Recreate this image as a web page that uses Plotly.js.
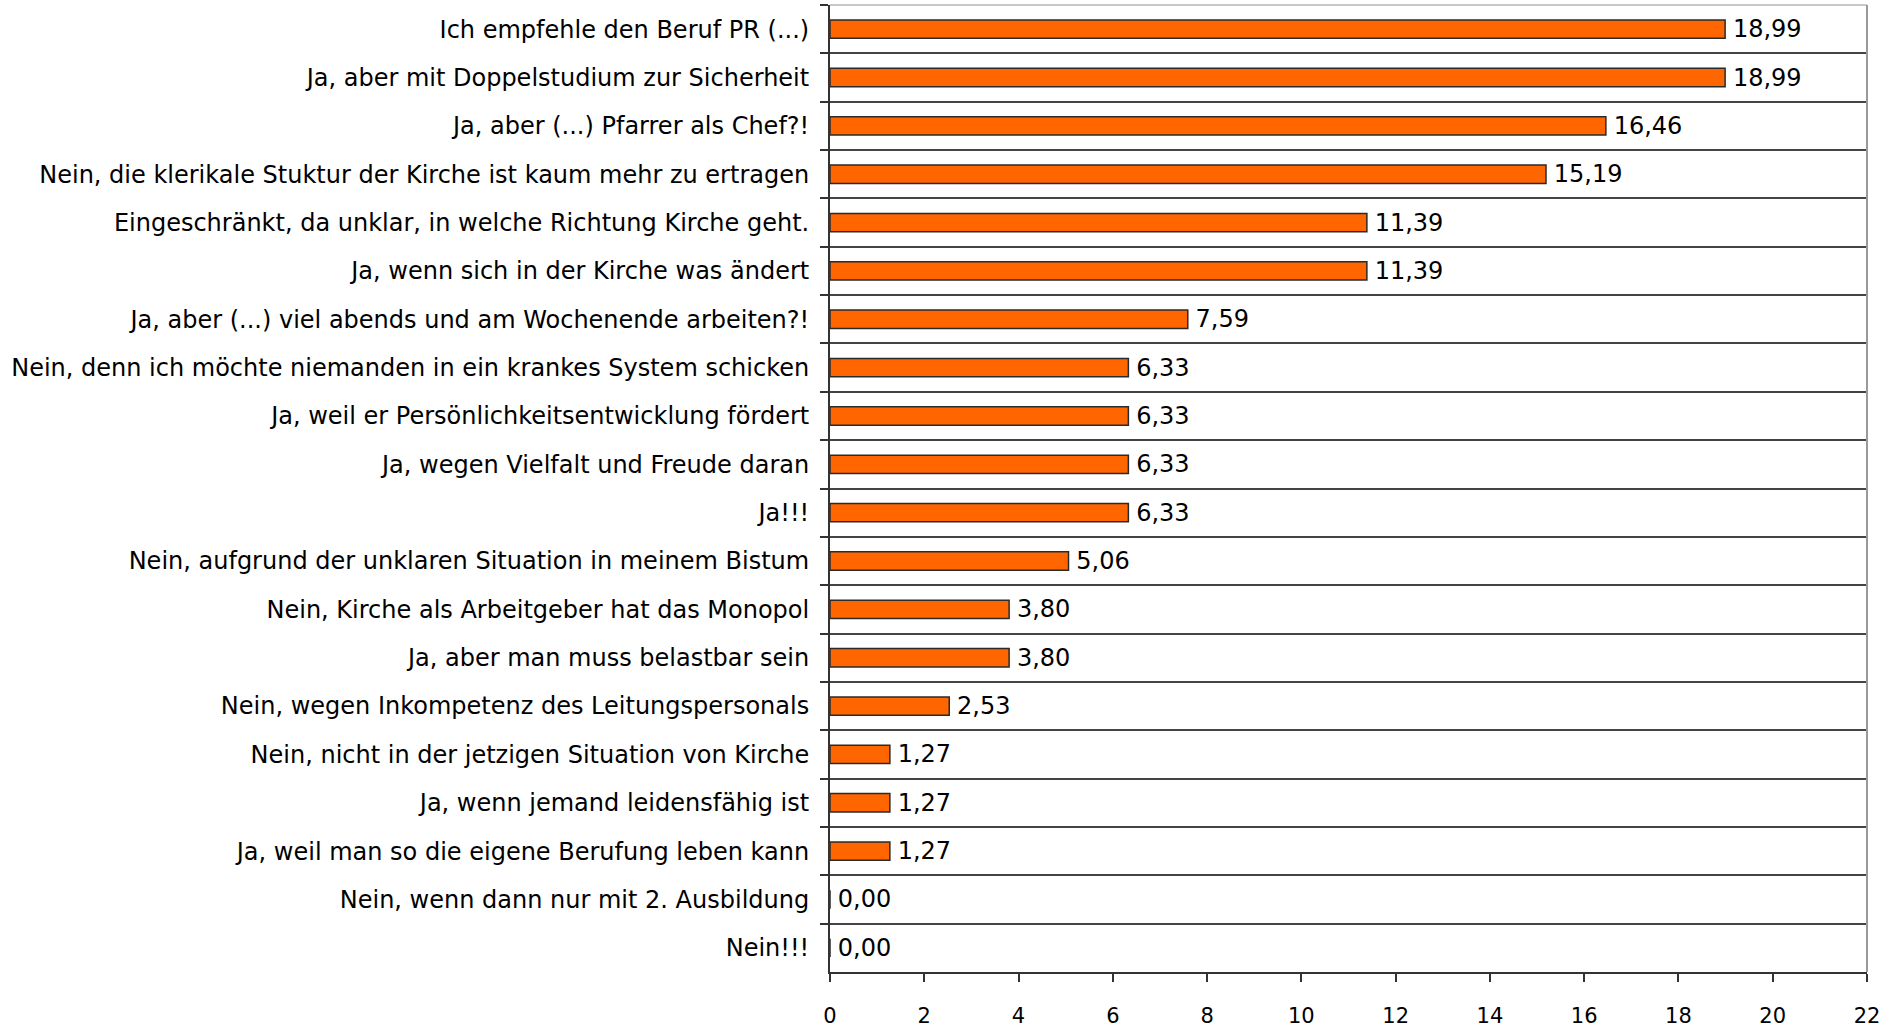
<!DOCTYPE html>
<html>
<head>
<meta charset="utf-8">
<script src="https://cdn.plot.ly/plotly-3.0.1.min.js"></script>
<style>html,body{margin:0;padding:0;background:#fff;}#chart{width:1899px;height:1029px;}</style>
</head>
<body>
<div id="chart"></div>
<script>
const categories = [
  "Ich empfehle den Beruf PR (...)",
  "Ja, aber mit Doppelstudium zur Sicherheit",
  "Ja, aber (...) Pfarrer als Chef?!",
  "Nein, die klerikale Stuktur der Kirche ist kaum mehr zu ertragen",
  "Eingeschränkt, da unklar, in welche Richtung Kirche geht.",
  "Ja, wenn sich in der Kirche was ändert",
  "Ja, aber (...) viel abends und am Wochenende arbeiten?!",
  "Nein, denn ich möchte niemanden in ein krankes System schicken",
  "Ja, weil er Persönlichkeitsentwicklung fördert",
  "Ja, wegen Vielfalt und Freude daran",
  "Ja!!!",
  "Nein, aufgrund der unklaren Situation in meinem Bistum",
  "Nein, Kirche als Arbeitgeber hat das Monopol",
  "Ja, aber man muss belastbar sein",
  "Nein, wegen Inkompetenz des Leitungspersonals",
  "Nein, nicht in der jetzigen Situation von Kirche",
  "Ja, wenn jemand leidensfähig ist",
  "Ja, weil man so die eigene Berufung leben kann",
  "Nein, wenn dann nur mit 2. Ausbildung",
  "Nein!!!"
];
const values = [18.99, 18.99, 16.46, 15.19, 11.39, 11.39, 7.59, 6.33, 6.33, 6.33, 6.33, 5.06, 3.80, 3.80, 2.53, 1.27, 1.27, 1.27, 0.00, 0.00];
const xTicks = [0, 2, 4, 6, 8, 10, 12, 14, 16, 18, 20, 22];

const FONT = "'DejaVu Sans', Verdana, sans-serif";

const trace = {
  type: 'bar',
  orientation: 'h',
  y: categories,
  x: values,
  marker: {color: '#FF6600', line: {color: '#2a2a2a', width: 1.5}},
  text: values.map(v => '\u2009' + v.toFixed(2).replace('.', ',')),
  textposition: 'outside',
  constraintext: 'none',
  cliponaxis: false,
  textfont: {family: FONT, size: 24, color: '#000'},
  hoverinfo: 'skip',
  width: 0.38
};

const layout = {
  width: 1899, height: 1029,
  margin: {l: 830, r: 32, t: 5, b: 57, pad: 0},
  paper_bgcolor: '#fff', plot_bgcolor: '#fff',
  showlegend: false,
  font: {family: FONT, size: 23, color: '#000'},
  xaxis: {
    range: [0, 22], tickvals: xTicks, ticktext: xTicks.map(String),
    showgrid: false, zeroline: false,
    showline: true, linecolor: '#333', linewidth: 2,
    ticks: 'outside', ticklen: 8, tickwidth: 2, tickcolor: '#333',
    tickfont: {family: FONT, size: 21, color: '#000'},
    ticklabelstandoff: 16
  },
  yaxis: {
    type: 'category', autorange: 'reversed',
    tickson: 'boundaries',
    showgrid: true, gridcolor: '#444', gridwidth: 2,
    showline: true, linecolor: '#333', linewidth: 2,
    ticks: 'outside', ticklen: 8, tickwidth: 2, tickcolor: '#333',
    tickfont: {family: FONT, size: 24, color: '#000'},
    ticklabelstandoff: 14
  },
  shapes: [
    {type: 'line', xref: 'paper', yref: 'paper', x0: 0, x1: 1, y0: 1, y1: 1, line: {color: '#c8c8c8', width: 2}},
    {type: 'line', xref: 'paper', yref: 'paper', x0: 1, x1: 1, y0: 0, y1: 1, line: {color: '#999', width: 2}}
  ]
};

Plotly.newPlot('chart', [trace], layout, {displayModeBar: false, staticPlot: true});
</script>
</body>
</html>
